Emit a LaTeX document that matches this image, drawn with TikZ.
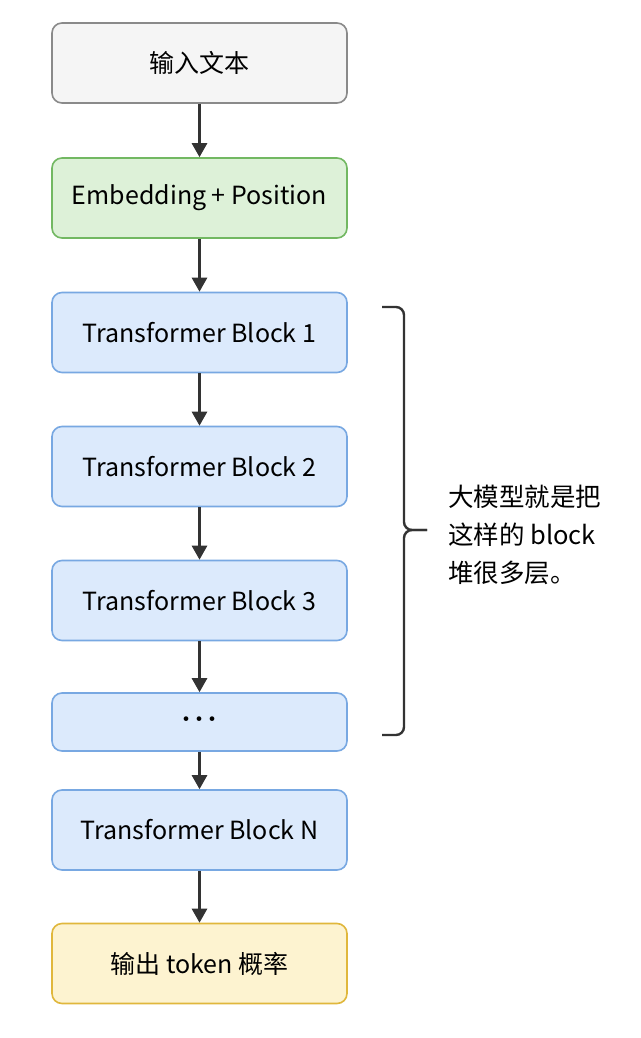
\documentclass[tikz,border=0pt]{standalone}
\usepackage{fontspec}
\setmainfont{Noto Sans CJK SC}
\usetikzlibrary{arrows.meta}
\definecolor{grayfill}{HTML}{F5F5F5}
\definecolor{grayline}{HTML}{8A8A8A}
\definecolor{greenfill}{HTML}{DDF1D8}
\definecolor{greenline}{HTML}{72B862}
\definecolor{bluefill}{HTML}{DCEAFC}
\definecolor{blueline}{HTML}{78A8E2}
\definecolor{yellowfill}{HTML}{FDF3D0}
\definecolor{yellowline}{HTML}{E0B73C}
\definecolor{ink}{HTML}{333333}
\tikzset{
  box/.style={draw, line width=1.6pt, rounded corners=10pt, minimum width=295pt, minimum height=80pt, inner sep=0pt, font=\fontsize{25pt}{30pt}\selectfont, text=black},
  graybox/.style={box, fill=grayfill, draw=grayline},
  greenbox/.style={box, fill=greenfill, draw=greenline},
  bluebox/.style={box, fill=bluefill, draw=blueline},
  yellowbox/.style={box, fill=yellowfill, draw=yellowline},
  flow/.style={draw=ink, line width=2.8pt, -{Triangle[length=14pt,width=15pt]}},
  bracepath/.style={draw=ink, line width=2.4pt, rounded corners=8pt},
}
\begin{document}
\begin{tikzpicture}[x=1pt,y=-1pt]
\useasboundingbox[fill=white] (0,0) rectangle (640,1038);
\node[graybox] (in) at (199.5,63) {输入文本};
\node[greenbox] (emb) at (199.5,198) {Embedding + Position};
\node[bluebox] (b1) at (199.5,332.5) {Transformer Block 1};
\node[bluebox] (b2) at (199.5,466.5) {Transformer Block 2};
\node[bluebox] (b3) at (199.5,600.5) {Transformer Block 3};
\node[bluebox, minimum height=58pt, font=\fontsize{22pt}{30pt}\selectfont] (dots) at (199.5,722) {·\kern-9pt·\kern-9pt·};
\node[bluebox] (bn) at (199.5,830) {Transformer Block N};
\node[yellowbox] (out) at (199.5,963.5) {输出 token 概率};
\draw[flow] (in) -- (emb);
\draw[flow] (emb) -- (b1);
\draw[flow] (b1) -- (b2);
\draw[flow] (b2) -- (b3);
\draw[flow] (b3) -- (dots);
\draw[flow] (dots) -- (bn);
\draw[flow] (bn) -- (out);
\coordinate (bt) at (382,307);
\coordinate (bm) at (427,530);
\coordinate (bb) at (382,735);
\draw[bracepath] (bt) -- (404,307) -- (404,530) -- (bm);
\draw[bracepath] (bm) -- (404,530) -- (404,735) -- (bb);
\node[anchor=west, align=left, font=\fontsize{25.5pt}{38pt}\selectfont, inner sep=0pt] (note) at (448,535) {大模型就是把\\这样的 block\\堆很多层。};
\end{tikzpicture}
\end{document}
